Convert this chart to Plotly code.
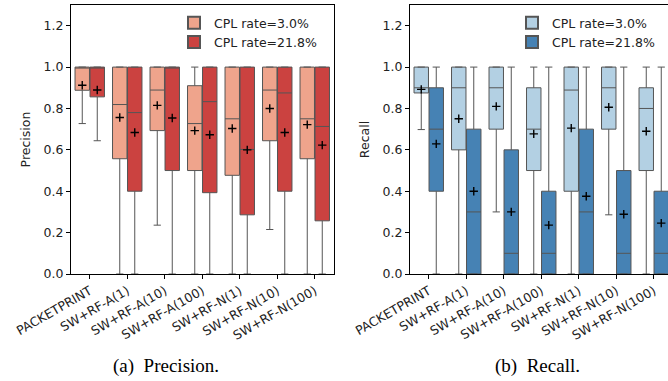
import plotly.graph_objects as go

categories = ["PACKETPRINT", "SW+RF-A(1)", "SW+RF-A(10)", "SW+RF-A(100)",
              "SW+RF-N(1)", "SW+RF-N(10)", "SW+RF-N(100)"]
series_names = ["CPL rate=3.0%", "CPL rate=21.8%"]

# Precision, CPL 3.0%
prec_lo_q1 = [0.888, 0.557, 0.693, 0.500, 0.477, 0.644, 0.557]
prec_lo_med = [1.0, 0.819, 0.889, 0.727, 0.750, 0.889, 0.750]
prec_lo_q3 = [1.0, 1.0, 1.0, 0.910, 1.0, 1.0, 1.0]
prec_lo_wlo = [0.727, 0.0, 0.236, 0.0, 0.0, 0.215, 0.0]
prec_lo_whi = [1.0, 1.0, 1.0, 1.0, 1.0, 1.0, 1.0]
prec_lo_mean = [0.912, 0.756, 0.815, 0.693, 0.703, 0.800, 0.722]
# Precision, CPL 21.8%
prec_hi_q1 = [0.856, 0.400, 0.500, 0.393, 0.286, 0.400, 0.257]
prec_hi_med = [1.0, 0.780, 1.0, 0.833, 0.602, 0.875, 0.713]
prec_hi_q3 = [1.0, 1.0, 1.0, 1.0, 1.0, 1.0, 1.0]
prec_hi_wlo = [0.644, 0.0, 0.0, 0.0, 0.0, 0.0, 0.0]
prec_hi_whi = [1.0, 1.0, 1.0, 1.0, 1.0, 1.0, 1.0]
prec_hi_mean = [0.889, 0.684, 0.754, 0.673, 0.600, 0.684, 0.623]

# Recall, CPL 3.0%
rec_lo_q1 = [0.875, 0.60, 0.70, 0.50, 0.40, 0.70, 0.50]
rec_lo_med = [0.90, 0.90, 0.90, 0.70, 0.889, 0.90, 0.80]
rec_lo_q3 = [1.0, 1.0, 1.0, 0.90, 1.0, 1.0, 0.90]
rec_lo_wlo = [0.698, 0.0, 0.30, 0.0, 0.0, 0.286, 0.0]
rec_lo_whi = [1.0, 1.0, 1.0, 1.0, 1.0, 1.0, 1.0]
rec_lo_mean = [0.892, 0.750, 0.810, 0.677, 0.705, 0.806, 0.690]
# Recall, CPL 21.8%
rec_hi_q1 = [0.40, 0.0, 0.0, 0.0, 0.0, 0.0, 0.0]
rec_hi_med = [0.70, 0.30, 0.10, 0.10, 0.30, 0.10, 0.10]
rec_hi_q3 = [0.90, 0.70, 0.60, 0.40, 0.70, 0.50, 0.40]
rec_hi_wlo = [0.0, 0.0, 0.0, 0.0, 0.0, 0.0, 0.0]
rec_hi_whi = [1.0, 1.0, 1.0, 1.0, 1.0, 1.0, 1.0]
rec_hi_mean = [0.629, 0.400, 0.300, 0.236, 0.376, 0.289, 0.246]

reds = ["#EFA48C", "#CB4240"]
blues = ["#B3D0E3", "#4682B4"]
line_gray = "#555555"
FONT = "DejaVu Sans"
W, H = 668, 381

fig = go.Figure()
idx = list(range(len(categories)))
offsets = [-0.2, 0.2]

panels = [
    ("x", "y", "legend", reds,
     [(prec_lo_q1, prec_lo_med, prec_lo_q3, prec_lo_wlo, prec_lo_whi, prec_lo_mean),
      (prec_hi_q1, prec_hi_med, prec_hi_q3, prec_hi_wlo, prec_hi_whi, prec_hi_mean)]),
    ("x2", "y2", "legend2", blues,
     [(rec_lo_q1, rec_lo_med, rec_lo_q3, rec_lo_wlo, rec_lo_whi, rec_lo_mean),
      (rec_hi_q1, rec_hi_med, rec_hi_q3, rec_hi_wlo, rec_hi_whi, rec_hi_mean)]),
]

for xa, ya, lg, cols, series in panels:
    for s, (q1, med, q3, wlo, whi, mean) in enumerate(series):
        xs = [i + offsets[s] for i in idx]
        fig.add_trace(go.Box(
            x=xs, q1=q1, median=med, q3=q3, lowerfence=wlo, upperfence=whi,
            width=0.385, whiskerwidth=0.5,
            fillcolor=cols[s], line=dict(color=line_gray, width=1),
            name=series_names[s], xaxis=xa, yaxis=ya, legend=lg,
            boxpoints=False, hoverinfo="skip", showlegend=True,
        ))
    for s, (q1, med, q3, wlo, whi, mean) in enumerate(series):
        xs = [i + offsets[s] for i in idx]
        fig.add_trace(go.Scatter(
            x=xs, y=mean, mode="markers", xaxis=xa, yaxis=ya,
            marker=dict(symbol="cross-thin", size=6, color="black",
                        line=dict(color="black", width=1.4)),
            showlegend=False, hoverinfo="skip",
        ))

y_dom = [1 - 274 / H, 1 - 5 / H]
axis_common = dict(showgrid=False, zeroline=False, showline=True, linecolor="black",
                   linewidth=1, ticks="outside", ticklen=4, tickcolor="black",
                   automargin=False,
                   tickfont=dict(family=FONT, size=12.5, color="#222"))

fig.update_layout(
    width=W, height=H, margin=dict(l=0, r=0, t=0, b=0),
    plot_bgcolor="white", paper_bgcolor="white", boxmode="overlay",
    xaxis=dict(domain=[71 / W, 333.5 / W], range=[-0.5, 6.5], tickvals=idx,
               ticktext=categories, tickangle=-30, mirror=True, anchor="y", **axis_common),
    yaxis=dict(domain=y_dom, range=[0, 1.3], tickvals=[0, 0.2, 0.4, 0.6, 0.8, 1.0, 1.2],
               tickformat=".1f", mirror=True, anchor="x",
               title=dict(text="Precision", font=dict(family=FONT, size=12.5, color="#222"),
                          standoff=10), **axis_common),
    xaxis2=dict(domain=[410 / W, 1.0], range=[-0.5, -0.5 + (W - 410) / 37.5], tickvals=idx,
                ticktext=categories, tickangle=-30, mirror=True, anchor="y2", **axis_common),
    yaxis2=dict(domain=y_dom, range=[0, 1.3], tickvals=[0, 0.2, 0.4, 0.6, 0.8, 1.0, 1.2],
                tickformat=".1f", mirror=False, anchor="x2",
                title=dict(text="Recall", font=dict(family=FONT, size=12.5, color="#222"),
                           standoff=10), **axis_common),
    legend=dict(x=322 / W, y=1 - 8 / H, xanchor="right", yanchor="top",
                bgcolor="rgba(255,255,255,0.8)", font=dict(family=FONT, size=12.5, color="#222"),
                tracegroupgap=2, itemsizing="constant"),
    legend2=dict(x=660 / W, y=1 - 8 / H, xanchor="right", yanchor="top",
                 bgcolor="rgba(255,255,255,0.8)", font=dict(family=FONT, size=12.5, color="#222"),
                 tracegroupgap=2, itemsizing="constant"),
    annotations=[
        dict(text="(a)  Precision.", x=166 / W, y=1 - 366 / H, xref="paper", yref="paper",
             xanchor="center", yanchor="middle", showarrow=False,
             font=dict(family="Liberation Serif", size=19, color="black")),
        dict(text="(b)  Recall.", x=537 / W, y=1 - 366 / H, xref="paper", yref="paper",
             xanchor="center", yanchor="middle", showarrow=False,
             font=dict(family="Liberation Serif", size=19, color="black")),
    ],
)

fig.write_html("out.html")
